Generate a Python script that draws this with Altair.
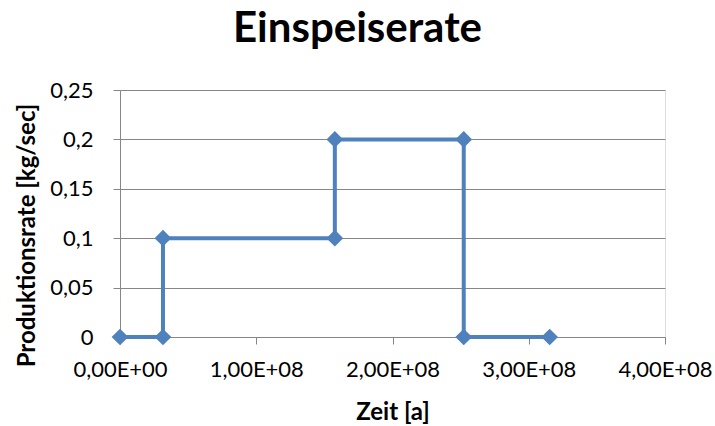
import altair as alt
import pandas as pd

# Feed-in schedule: time in seconds, rate in kg/sec (step profile)
zeit = [0, 31536000, 31536000, 157680000, 157680000, 252288000, 252288000, 315360000]
rate = [0, 0, 0.1, 0.1, 0.2, 0.2, 0, 0]

x_ticks = [0, 1e8, 2e8, 3e8, 4e8]
y_ticks = [0, 0.05, 0.1, 0.15, 0.2, 0.25]

df = pd.DataFrame({"zeit": zeit, "rate": rate, "i": list(range(len(zeit)))})

FONT = "Lato"
BLUE = "#4F81BD"
GRAY = "#868686"

x_enc = alt.X(
    "zeit:Q",
    scale=alt.Scale(domain=[0, 4e8], nice=False, zero=False),
    axis=alt.Axis(
        title="Zeit [a]",
        values=x_ticks,
        labelExpr="replace(format(datum.value / 1e8, '.2f'), '.', ',') + (datum.value == 0 ? 'E+00' : 'E+08')",
        grid=False,
        domainColor=GRAY,
        tickColor=GRAY,
        tickSize=7,
        labelFont=FONT,
        labelFontSize=22,
        labelColor="#000000",
        labelPadding=15,
        titleFont=FONT,
        titleFontSize=24,
        titleFontWeight="bold",
        titleColor="#000000",
        titlePadding=20,
        labelFlush=False,
        labelOverlap=False,
    ),
)

y_enc = alt.Y(
    "rate:Q",
    scale=alt.Scale(domain=[0, 0.25], nice=False),
    axis=alt.Axis(
        title="Produktionsrate [kg/sec]",
        values=y_ticks,
        labelExpr="replace(format(datum.value, '.2~f'), '.', ',')",
        grid=True,
        gridColor=GRAY,
        gridWidth=1,
        domainColor=GRAY,
        tickColor=GRAY,
        tickSize=7,
        labelFont=FONT,
        labelFontSize=22,
        labelColor="#000000",
        labelPadding=20,
        titleFont=FONT,
        titleFontSize=24,
        titleFontWeight="bold",
        titleColor="#000000",
        titleAngle=-90,
        titleX=-93,
        titleY=145,
        titleAlign="center",
        titleBaseline="middle",
        labelFlush=False,
        labelOverlap=False,
    ),
)

line = alt.Chart(df).mark_line(color=BLUE, strokeWidth=4).encode(
    x=x_enc, y=y_enc, order="i:O"
)
points = alt.Chart(df).mark_point(
    shape="diamond", filled=True, size=280, color=BLUE, opacity=1
).encode(x="zeit:Q", y="rate:Q")

chart = (
    (line + points)
    .properties(
        width=545,
        height=247,
        title=alt.TitleParams(
            "Einspeiserate",
            font=FONT,
            fontSize=42,
            fontWeight="bold",
            color="#000000",
            anchor="middle",
            dx=-35,
            offset=28,
        ),
        autosize=alt.AutoSizeParams(type="none"),
        padding={"left": 120, "top": 90, "right": 50, "bottom": 89},
    )
    .configure_view(stroke=None)
    .configure(background="white")
)

chart.save("out.html", embed_options={"renderer": "svg", "actions": False})
